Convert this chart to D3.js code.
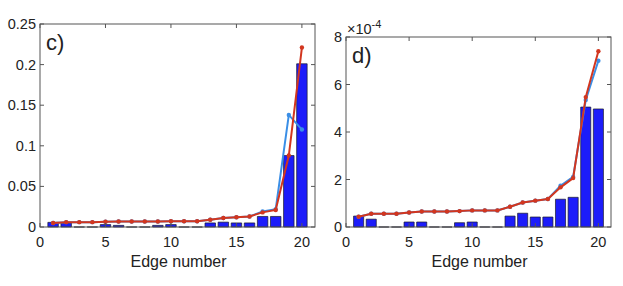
<!DOCTYPE html>
<html>
<head>
<meta charset="utf-8">
<script src="https://cdn.jsdelivr.net/npm/d3@7"></script>
<style>
  body { margin: 0; background: #fff; }
  svg text { font-family: "Liberation Sans", Arial, sans-serif; fill: #222; }
</style>
</head>
<body>
<div id="wrapper"></div>
<script>
var width = 623, height = 286;

var edges = [1,2,3,4,5,6,7,8,9,10,11,12,13,14,15,16,17,18,19,20];

// panel c)
var barsC  = [0.0057,0.005,0,0,0.003,0.002,0,0,0.002,0.003,0,0,0.005,0.006,0.005,0.005,0.013,0.013,0.088,0.201];
var redC   = [0.005,0.006,0.006,0.006,0.0065,0.0068,0.0068,0.0068,0.0068,0.007,0.007,0.007,0.009,0.011,0.012,0.013,0.018,0.021,0.088,0.221];
var blueC  = [0.005,0.006,0.006,0.006,0.0065,0.0068,0.0068,0.0068,0.0068,0.007,0.007,0.007,0.009,0.011,0.012,0.013,0.019,0.022,0.138,0.120];
var yTicksC = [0, 0.05, 0.1, 0.15, 0.2, 0.25];
var yLabelsC = ["0", "0.05", "0.1", "0.15", "0.2", "0.25"];

// panel d) (values in units of 1e-4)
var barsD  = [0.46,0.33,0,0,0.21,0.21,0,0,0.18,0.21,0,0,0.46,0.58,0.42,0.42,1.17,1.25,5.05,4.97];
var redD   = [0.43,0.56,0.56,0.56,0.61,0.65,0.65,0.65,0.67,0.70,0.70,0.70,0.85,1.03,1.11,1.18,1.67,2.06,5.47,7.40];
var blueD  = [0.43,0.56,0.56,0.56,0.61,0.65,0.65,0.65,0.67,0.70,0.70,0.70,0.85,1.03,1.11,1.18,1.74,2.11,5.35,7.00];
var yTicksD = [0, 2, 4, 6, 8];
var yLabelsD = ["0", "2", "4", "6", "8"];

var xTicks = [0, 5, 10, 15, 20];
var xLabels = ["0", "5", "10", "15", "20"];

var svg = d3.select("#wrapper").append("svg")
	.attr("width", width)
	.attr("height", height);

function drawPanel(o){
	var x = d3.scaleLinear().domain([0, 21]).range([o.left, o.right]);
	var y = d3.scaleLinear().domain(o.yDomain).range([o.bottom, o.top]);
	var g = svg.append("g");
	var tick = 4;

	// bars
	var bw = (x(1) - x(0)) * 0.8;
	g.selectAll("path.bar").data(o.bars).enter().append("path")
		.attr("class", "bar")
		.attr("d", function(d, i){
			var x0 = x(edges[i]) - bw / 2;
			return "M" + x0 + "," + y(0) + "V" + y(d) + "H" + (x0 + bw) + "V" + y(0) + "Z";
		})
		.attr("fill", "#1c1cfa")
		.attr("stroke", "#1a1a2a")
		.attr("stroke-width", 0.7);

	// lines
	var line = d3.line()
		.x(function(d, i){ return x(edges[i]); })
		.y(function(d){ return y(d); });

	[{data: o.blue, color: "#3a8ee6"}, {data: o.red, color: "#d2361f"}].forEach(function(s){
		g.append("path")
			.attr("d", line(s.data))
			.attr("fill", "none")
			.attr("stroke", s.color)
			.attr("stroke-width", 2);
		g.selectAll(null).data(s.data).enter().append("circle")
			.attr("cx", function(d, i){ return x(edges[i]); })
			.attr("cy", function(d){ return y(d); })
			.attr("r", 2.2)
			.attr("fill", s.color);
	});

	// box
	g.append("rect")
		.attr("x", o.left).attr("y", o.top)
		.attr("width", o.right - o.left).attr("height", o.bottom - o.top)
		.attr("fill", "none")
		.attr("stroke", "#555")
		.attr("stroke-width", 1);

	// ticks on all four sides
	xTicks.forEach(function(t, i){
		g.append("line").attr("x1", x(t)).attr("x2", x(t)).attr("y1", o.bottom).attr("y2", o.bottom - tick).attr("stroke", "#555");
		g.append("line").attr("x1", x(t)).attr("x2", x(t)).attr("y1", o.top).attr("y2", o.top + tick).attr("stroke", "#555");
		g.append("text").attr("x", x(t)).attr("y", o.bottom + 20)
			.attr("text-anchor", "middle").attr("font-size", 14.5).text(xLabels[i]);
	});
	o.yTicks.forEach(function(t, i){
		g.append("line").attr("x1", o.left).attr("x2", o.left + tick).attr("y1", y(t)).attr("y2", y(t)).attr("stroke", "#555");
		g.append("line").attr("x1", o.right).attr("x2", o.right - tick).attr("y1", y(t)).attr("y2", y(t)).attr("stroke", "#555");
		g.append("text").attr("x", o.left - 4).attr("y", y(t) + 5)
			.attr("text-anchor", "end").attr("font-size", 14.5).text(o.yLabels[i]);
	});

	g.append("text")
		.attr("x", (o.left + o.right) / 2 + 1).attr("y", 267)
		.attr("text-anchor", "middle").attr("font-size", 16)
		.text("Edge number");

	g.append("text")
		.attr("x", o.left + 6).attr("y", o.top + 26)
		.attr("font-size", 22)
		.text(o.label);
	return g;
}

drawPanel({left: 40, right: 315, top: 24, bottom: 227, yDomain: [0, 0.25],
	yTicks: yTicksC, yLabels: yLabelsC, bars: barsC, red: redC, blue: blueC, label: "c)"});

var gd = drawPanel({left: 346, right: 611, top: 37, bottom: 227, yDomain: [0, 8],
	yTicks: yTicksD, yLabels: yLabelsD, bars: barsD, red: redD, blue: blueD, label: "d)"});

var exp = gd.append("text").attr("x", 347).attr("y", 34).attr("font-size", 14.5);
exp.append("tspan").text("\u00d710");
exp.append("tspan").attr("dy", -6).attr("font-size", 11).text("-4");
</script>
</body>
</html>
